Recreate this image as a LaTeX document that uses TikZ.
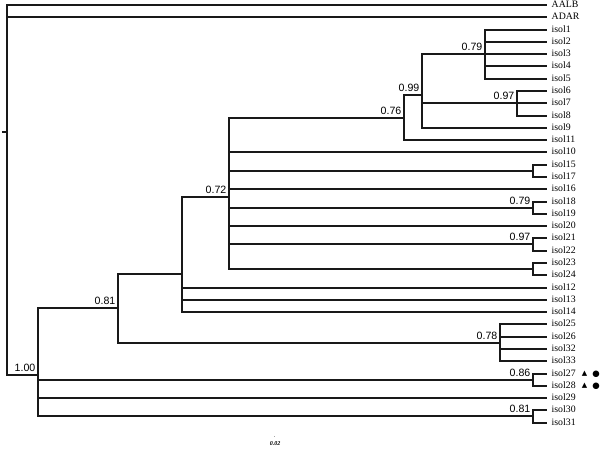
\documentclass[tikz,border=0pt]{standalone}
\usepackage{fontspec}
\setmainfont{Liberation Serif}
\newfontfamily\bsfont{Liberation Sans}
\newfontfamily\symfont{DejaVu Sans}
\begin{document}
\begin{tikzpicture}[x=1pt,y=-1pt,
  branch/.style={draw=black!90, line width=1.5pt},
  leaflab/.style={anchor=mid west, inner sep=0pt, font=\fontsize{9.8}{11}\selectfont},
  bs/.style={anchor=south east, inner sep=0pt, font=\bsfont\fontsize{10.6}{12}\selectfont},
  mk/.style={inner sep=0pt, font=\symfont\fontsize{7}{8}\selectfont},
  mkc/.style={inner sep=0pt, font=\symfont\fontsize{8.5}{10}\selectfont}]
\path[use as bounding box] (0,0) rectangle (600,448);

% leaves
\foreach \n/\lab/\y in {l1/AALB/5, l2/ADAR/17, l3/isol1/30, l4/isol2/42,
  l5/isol3/54, l6/isol4/66, l7/isol5/79, l8/isol6/91, l9/isol7/103,
  l10/isol8/116, l11/isol9/128, l12/isol11/140, l13/isol10/152,
  l14/isol15/165, l15/isol17/177, l16/isol16/189, l17/isol18/202,
  l18/isol19/214, l19/isol20/226, l20/isol21/238, l21/isol22/251,
  l22/isol23/263, l23/isol24/275, l24/isol12/288, l25/isol13/300,
  l26/isol14/312, l27/isol25/324, l28/isol26/337, l29/isol32/349,
  l30/isol33/361, l31/isol27/374, l32/isol28/386, l33/isol29/398,
  l34/isol30/410, l35/isol31/423} {
  \coordinate (\n) at (547,\y);
  \node[leaflab] (\n-t) at (551.5,\y) {\lab};
}

% internal nodes
\coordinate (rootstub) at (2,132);
\coordinate (root) at (7,132);
\coordinate (n100) at (38,375);
\coordinate (n081) at (118,308);
\coordinate (nA) at (182,274);
\coordinate (n072) at (229,197);
\coordinate (n076) at (404,118);
\coordinate (n099) at (422,95);
\coordinate (n079) at (485,54);
\coordinate (n097) at (517,103);
\coordinate (n1517) at (533,171);
\coordinate (n1819) at (533,208);
\coordinate (n2122) at (533,244);
\coordinate (n2324) at (533,269);
\coordinate (n078) at (500,343);
\coordinate (n2728) at (533,380);
\coordinate (n3031) at (533,416);

% branches
\draw[branch] (rootstub) -- (root);
\foreach \p/\c in {root/l1, root/l2, root/n100,
  n100/n081, n100/n2728, n100/l33, n100/n3031,
  n081/nA, n081/n078,
  nA/n072, nA/l24, nA/l25, nA/l26,
  n072/n076, n072/l13, n072/n1517, n072/l16, n072/n1819, n072/l19, n072/n2122, n072/n2324,
  n076/n099, n076/l12,
  n099/n079, n099/n097, n099/l11,
  n079/l3, n079/l4, n079/l5, n079/l6, n079/l7,
  n097/l8, n097/l9, n097/l10,
  n1517/l14, n1517/l15, n1819/l17, n1819/l18, n2122/l20, n2122/l21, n2324/l22, n2324/l23,
  n078/l27, n078/l28, n078/l29, n078/l30,
  n2728/l31, n2728/l32, n3031/l34, n3031/l35}
  \draw[branch] (\p) |- (\c);

% support values
\node[bs] (b100) at ([xshift=-2.5pt,yshift=3.3pt]n100) {1.00};
\node[bs] (b081) at ([xshift=-2.5pt,yshift=3.3pt]n081) {0.81};
\node[bs] (b072) at ([xshift=-2.5pt,yshift=3.3pt]n072) {0.72};
\node[bs] (b076) at ([xshift=-2.5pt,yshift=3.3pt]n076) {0.76};
\node[bs] (b099) at ([xshift=-2.5pt,yshift=3.3pt]n099) {0.99};
\node[bs] (b079) at ([xshift=-2.5pt,yshift=3.3pt]n079) {0.79};
\node[bs] (b097) at ([xshift=-2.5pt,yshift=3.3pt]n097) {0.97};
\node[bs] (b1819) at ([xshift=-2.5pt,yshift=3.3pt]n1819) {0.79};
\node[bs] (b2122) at ([xshift=-2.5pt,yshift=3.3pt]n2122) {0.97};
\node[bs] (b078) at ([xshift=-2.5pt,yshift=3.3pt]n078) {0.78};
\node[bs] (b2728) at ([xshift=-2.5pt,yshift=3.3pt]n2728) {0.86};
\node[bs] (b3031) at ([xshift=-2.5pt,yshift=3.3pt]n3031) {0.81};

% markers
\node[mk] (m27a) at (584.5,374) {▲};
\node[mkc] (m27b) at (596,374) {●};
\node[mk] (m28a) at (584.5,386) {▲};
\node[mkc] (m28b) at (596,386) {●};

% scale
\coordinate (sc1) at (273.8,436);
\coordinate (sc2) at (274.8,436);
\draw[black!35, line width=0.6pt] (sc1) -- (sc2);
\node[inner sep=0pt, font=\bfseries\itshape\fontsize{6}{7}\selectfont] (scale) at (275,443.5) {0.02};
\end{tikzpicture}
\end{document}
